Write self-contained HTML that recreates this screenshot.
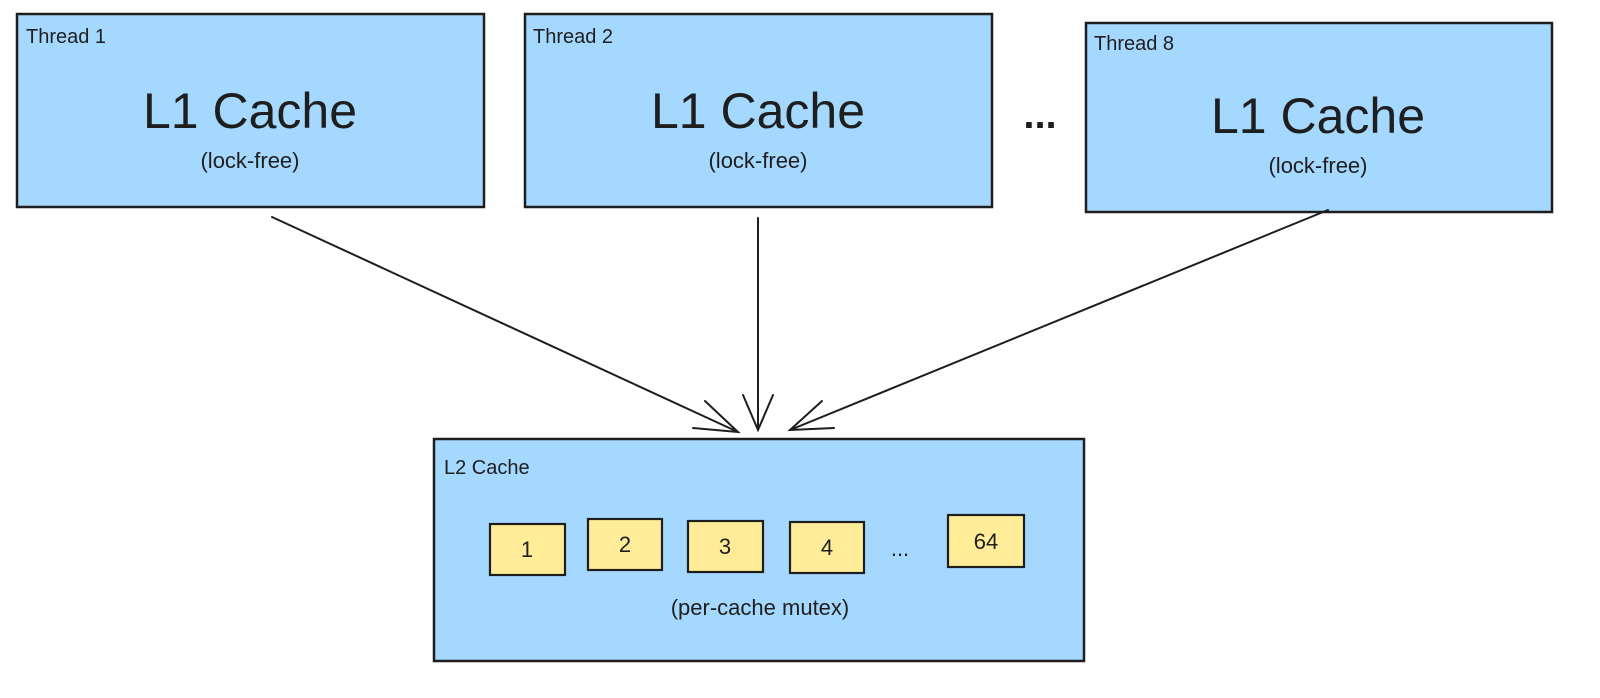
<!DOCTYPE html>
<html><head><meta charset="utf-8"><style>
body{margin:0;background:#fff;width:1600px;height:693px;overflow:hidden}
svg text{font-family:"Liberation Sans",sans-serif;fill:#1e1e1e}
</style></head><body>
<svg width="1600" height="693" viewBox="0 0 1600 693" xmlns="http://www.w3.org/2000/svg">
<g stroke="#1e1e1e" stroke-width="2.5" fill="#a5d8ff">
<rect x="17" y="14" width="467" height="193"/>
<rect x="525" y="14" width="467" height="193"/>
<rect x="1086" y="23" width="466" height="189"/>
<rect x="434" y="439" width="650" height="222"/>
</g>
<g stroke="#1e1e1e" stroke-width="2.2" fill="#ffec99">
<rect x="490" y="524" width="75" height="51"/>
<rect x="588" y="519" width="74" height="51"/>
<rect x="688" y="521" width="75" height="51"/>
<rect x="790" y="522" width="74" height="51"/>
<rect x="948" y="515" width="76" height="52"/>
</g>
<g stroke="#1e1e1e" stroke-width="2" fill="none" stroke-linecap="round">
<path d="M272 217 L738 432 M705 401 L738 432 L693 428"/>
<path d="M758 218 L758 430 M743 395 L758 430 L773 395"/>
<path d="M1328 210 L790 430 M822 401 L790 430 L834 428"/>
</g>
<g font-size="20">
<text x="26" y="43">Thread 1</text>
<text x="533" y="43">Thread 2</text>
<text x="1094" y="50">Thread 8</text>
<text x="444" y="474">L2 Cache</text>
</g>
<g font-size="50" text-anchor="middle">
<text x="250" y="128">L1 Cache</text>
<text x="758" y="128">L1 Cache</text>
<text x="1318" y="133">L1 Cache</text>
</g>
<g font-size="22" text-anchor="middle">
<text x="250" y="168">(lock-free)</text>
<text x="758" y="168">(lock-free)</text>
<text x="1318" y="173">(lock-free)</text>
<text x="760" y="615">(per-cache mutex)</text>
<text x="527" y="557">1</text>
<text x="625" y="552">2</text>
<text x="725" y="554">3</text>
<text x="827" y="555">4</text>
<text x="986" y="549">64</text>
<text x="900" y="556">...</text>
</g>
<text x="1040" y="128" font-size="40" text-anchor="middle" font-weight="bold">...</text>
</svg>
</body></html>
